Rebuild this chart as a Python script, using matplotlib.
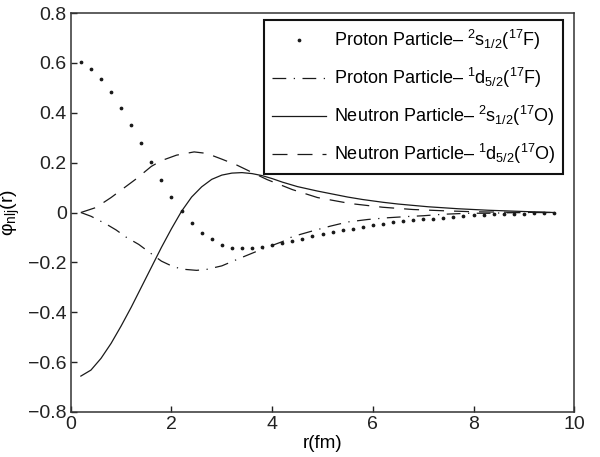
import matplotlib
matplotlib.use('Agg')
import matplotlib.pyplot as plt
import numpy as np

plt.rcParams['font.family'] = ['Liberation Sans', 'DejaVu Sans']
plt.rcParams['mathtext.fontset'] = 'custom'
plt.rcParams['mathtext.rm'] = 'Liberation Sans'
plt.rcParams['mathtext.it'] = 'Liberation Sans:italic'

# proton 2s1/2 (17F), dotted markers
r_p2s = [0.2, 0.4, 0.6, 0.8, 1.0, 1.2, 1.4, 1.6, 1.8, 2.0, 2.2, 2.4, 2.6, 2.8, 3.0,
         3.2, 3.4, 3.6, 3.8, 4.0, 4.2, 4.4, 4.6, 4.8, 5.0, 5.2, 5.4, 5.6, 5.8, 6.0,
         6.2, 6.4, 6.6, 6.8, 7.0, 7.2, 7.4, 7.6, 7.8, 8.0, 8.2, 8.4, 8.6, 8.8, 9.0,
         9.2, 9.4, 9.6]
phi_p2s = [0.603, 0.576, 0.536, 0.485, 0.421, 0.352, 0.277, 0.203, 0.131, 0.064,
           0.005, -0.043, -0.082, -0.108, -0.131, -0.141, -0.144, -0.144, -0.139,
           -0.132, -0.124, -0.115, -0.105, -0.095, -0.087, -0.079, -0.072, -0.065,
           -0.059, -0.051, -0.045, -0.039, -0.035, -0.031, -0.028, -0.025, -0.021,
           -0.019, -0.015, -0.012, -0.011, -0.008, -0.007, -0.005, -0.004, -0.003,
           -0.002, -0.001]

# proton 1d5/2 (17F), dash-dot
r_p1d = [0.2, 0.4, 0.7, 0.9, 1.1, 1.35, 1.55, 1.8, 2.0, 2.2, 2.5, 2.7, 3.0, 3.4,
         3.8, 4.2, 4.4, 4.8, 5.15, 5.5, 5.9, 6.3, 6.7, 7.0, 7.4, 7.9, 8.3, 8.7,
         9.2, 9.6]
phi_p1d = [0.0, -0.015, -0.046, -0.07, -0.099, -0.128, -0.158, -0.195, -0.214,
           -0.227, -0.232, -0.228, -0.214, -0.18, -0.147, -0.117, -0.097, -0.074,
           -0.055, -0.038, -0.028, -0.021, -0.016, -0.013, -0.007, -0.003, -0.003,
           -0.001, 0.0, 0.0]

# neutron 2s1/2 (17O), solid
r_n2s = [0.2, 0.4, 0.6, 0.8, 1.0, 1.2, 1.4, 1.6, 1.8, 2.0, 2.2, 2.4, 2.6, 2.8,
         3.0, 3.2, 3.4, 3.6, 3.8, 4.0, 4.2, 4.5, 4.9, 5.2, 5.5, 5.8, 6.2, 6.5,
         7.1, 7.7, 8.3, 9.0, 9.6]
phi_n2s = [-0.656, -0.632, -0.585, -0.525, -0.455, -0.38, -0.3, -0.22, -0.14,
           -0.065, 0.005, 0.062, 0.103, 0.133, 0.15, 0.158, 0.16, 0.156, 0.148,
           0.136, 0.122, 0.104, 0.086, 0.074, 0.062, 0.052, 0.041, 0.034, 0.023,
           0.015, 0.009, 0.004, 0.0]

# neutron 1d5/2 (17O), dashed
r_n1d = [0.2, 0.5, 0.8, 1.0, 1.3, 1.6, 1.8, 2.1, 2.45, 2.7, 3.0, 3.3, 3.65, 3.9,
         4.4, 4.9, 5.55, 6.2, 6.8, 7.4, 8.0, 8.7, 9.6]
phi_n1d = [0.0, 0.02, 0.06, 0.09, 0.135, 0.185, 0.208, 0.23, 0.243, 0.237, 0.214,
           0.19, 0.156, 0.132, 0.092, 0.06, 0.036, 0.021, 0.012, 0.007, 0.003,
           0.001, 0.0]

labels = ['Proton Particle\u2013 $^{2}$s$_{1/2}$($^{17}$F)',
          'Proton Particle\u2013 $^{1}$d$_{5/2}$($^{17}$F)',
          'Neutron Particle\u2013 $^{2}$s$_{1/2}$($^{17}$O)',
          'Neutron Particle\u2013 $^{1}$d$_{5/2}$($^{17}$O)']

fig = plt.figure(figsize=(6.0, 4.57), dpi=100)
ax = fig.add_axes([0.118, 0.0985, 0.839, 0.873])

ax.plot(r_p2s, phi_p2s, linestyle='none', marker='o', markersize=1.7,
        color='#1a1a1a', label=labels[0])
ax.plot(r_p1d, phi_p1d, color='#1a1a1a', lw=0.9,
        dashes=(11, 6, 1, 6), label=labels[1])
ax.plot(r_n2s, phi_n2s, color='#1a1a1a', lw=0.9, label=labels[2])
ax.plot(r_n1d, phi_n1d, color='#1a1a1a', lw=0.9,
        dashes=(12, 8), label=labels[3])

ax.set_xlim(0, 10)
ax.set_ylim(-0.8, 0.8)
ax.set_xticks(np.arange(0, 11, 2))
ax.set_yticks(np.arange(-0.8, 0.81, 0.2))
ax.set_yticklabels(['\u22120.8', '\u22120.6', '\u22120.4', '\u22120.2', '0',
                    '0.2', '0.4', '0.6', '0.8'])
ax.tick_params(direction='in', length=4, width=1, labelsize=14,
               colors='#222222', pad=3)
for s in ax.spines.values():
    s.set_linewidth(1.1)
    s.set_color('#333333')

ax.set_xlabel('r(fm)', fontsize=13.5, labelpad=1)
ax.set_ylabel('\u03c6$_{\\mathregular{nlj}}$(r)', fontsize=14, labelpad=4)

leg = ax.legend(loc='upper right', bbox_to_anchor=(0.978, 0.982),
                borderaxespad=0, fontsize=13, fancybox=False,
                numpoints=1, handlelength=3.0, handletextpad=0.45,
                labelspacing=0.78, borderpad=0.42, framealpha=1)
leg.get_frame().set_edgecolor('#111111')
leg.get_frame().set_linewidth(1.5)

fig.savefig('out.png', dpi=100)
